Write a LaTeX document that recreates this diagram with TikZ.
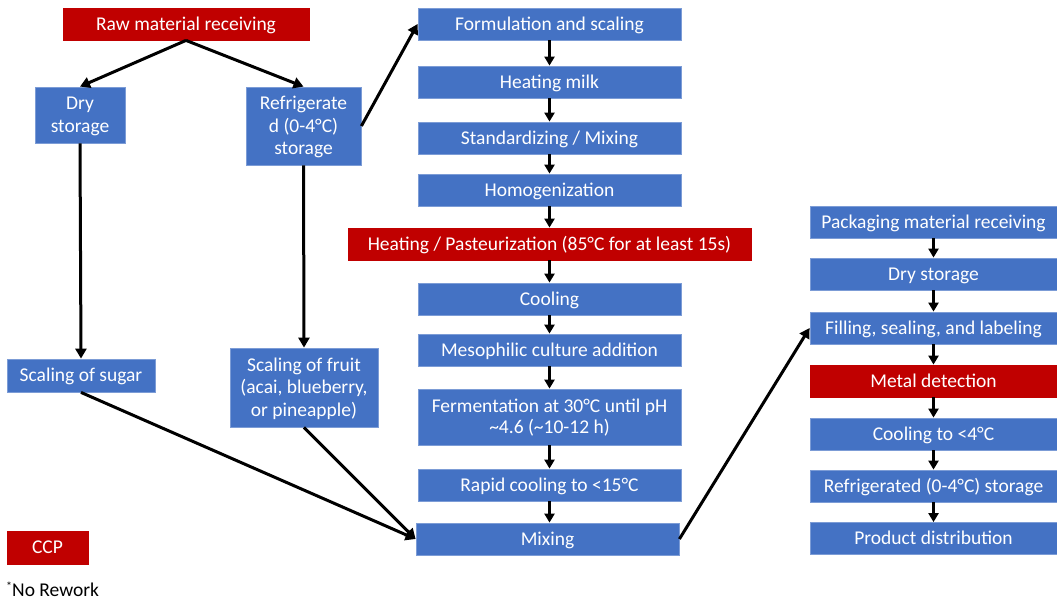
\documentclass[tikz,border=0pt]{standalone}
\usepackage{fontspec}
\setmainfont{Carlito}
\usetikzlibrary{arrows.meta}
\definecolor{bboxc}{HTML}{4472C4}
\definecolor{rboxc}{HTML}{C00000}
\tikzset{
  bbox/.style={fill=bboxc, draw=bboxc!70!white, line width=0.8pt, text=white, inner sep=0pt, align=center,
    text height=15pt, text depth=3pt,
    font=\fontsize{19.5}{22.5}\selectfont},
  rbox/.style={bbox, fill=rboxc, draw=rboxc},
  twolines/.style={text height=37.5pt},
  threelines/.style={text height=60pt},
  arr/.style={line width=3pt, -{Triangle[length=10pt,width=11pt]}},
  sarr/.style={line width=3pt, -{Triangle[length=9pt,width=10pt]}}
}
\begin{document}
\begin{tikzpicture}[x=1pt,y=-1pt]
\useasboundingbox (0,0) rectangle (1057,600);
% left
\node[rbox, minimum width=246pt, minimum height=32pt] (raw) at (186,24) {Raw material receiving};
\node[bbox, twolines, minimum width=90pt, minimum height=56pt] (dry) at (80,115) {Dry\\storage};
\node[bbox, threelines, minimum width=115pt, minimum height=78pt] (ref) at (303.5,126) {Refrigerate\\d (0-4°C)\\storage};
\node[bbox, minimum width=148pt, minimum height=33pt] (sugar) at (81,375.5) {Scaling of sugar};
\node[bbox, threelines, minimum width=148pt, minimum height=79pt] (fruit) at (304,387.5) {Scaling of fruit\\(acai, blueberry,\\or pineapple)};
\node[rbox, minimum width=81pt, minimum height=33pt] (ccp) at (47.5,547.5) {CCP};
\node[anchor=base west, inner sep=0pt, font=\fontsize{19.5}{20}\selectfont] (norework) at (6,596) {\raisebox{5.5pt}{\fontsize{12}{12}\selectfont*}No Rework};
% middle
\node[bbox, minimum width=263pt, minimum height=32pt] (form) at (549.5,24) {Formulation and scaling};
\node[bbox, minimum width=263pt, minimum height=32pt] (heat) at (549.5,82) {Heating milk};
\node[bbox, minimum width=263pt, minimum height=32pt] (std) at (549.5,138) {Standardizing / Mixing};
\node[bbox, minimum width=263pt, minimum height=32pt] (homo) at (549.5,190) {Homogenization};
\node[rbox, minimum width=403pt, minimum height=32pt] (past) at (549.5,244) {Heating / Pasteurization (85°C for at least 15s)};
\node[bbox, minimum width=263pt, minimum height=32pt] (cool) at (549.5,299) {Cooling};
\node[bbox, minimum width=263pt, minimum height=32pt] (meso) at (549.5,350) {Mesophilic culture addition};
\node[bbox, text height=35pt, font=\fontsize{19.5}{20.5}\selectfont, minimum width=263pt, minimum height=56pt] (ferm) at (549.5,417) {Fermentation at 30°C until pH\\\textasciitilde4.6 (\textasciitilde10-12 h)};
\node[bbox, minimum width=263pt, minimum height=32pt] (rapid) at (549.5,485) {Rapid cooling to <15°C};
\node[bbox, minimum width=263pt, minimum height=32pt] (mix) at (547.5,539) {Mixing};
% right
\node[bbox, minimum width=247pt, minimum height=32pt] (pack) at (933.5,222) {Packaging material receiving};
\node[bbox, minimum width=247pt, minimum height=32pt] (dry2) at (933.5,274) {Dry storage};
\node[bbox, minimum width=247pt, minimum height=32pt] (fill) at (933.5,328) {Filling, sealing, and labeling};
\node[rbox, minimum width=247pt, minimum height=32pt] (metal) at (933.5,381) {Metal detection};
\node[bbox, minimum width=247pt, minimum height=32pt] (cool2) at (933.5,434) {Cooling to <4°C};
\node[bbox, minimum width=247pt, minimum height=32pt] (rstore) at (933.5,486) {Refrigerated (0-4°C) storage};
\node[bbox, minimum width=247pt, minimum height=32pt] (dist) at (933.5,538.5) {Product distribution};
% connectors
\draw[arr] (raw.south) -- (dry.north);
\draw[arr] (raw.south) -- (ref.north);
\draw[arr] (ref.east) -- (form.west);
\draw[arr] (dry.south) -- (sugar.north);
\draw[arr] (ref.south) -- (fruit.north);
\draw[arr] (sugar.south) -- (mix.west);
\draw[arr] (fruit.south) -- (mix.west);
\draw[arr] (mix.east) -- (fill.west);
\foreach \a/\b in {form/heat, heat/std, std/homo, homo/past, past/cool, cool/meso, meso/ferm, ferm/rapid}
  \draw[sarr] (\a.south) -- (\b.north);
\draw[sarr] (rapid.south) -- (rapid.south |- mix.north);
\foreach \a/\b in {pack/dry2, dry2/fill, fill/metal, metal/cool2, cool2/rstore, rstore/dist}
  \draw[sarr] (\a.south) -- (\b.north);
\end{tikzpicture}
\end{document}
